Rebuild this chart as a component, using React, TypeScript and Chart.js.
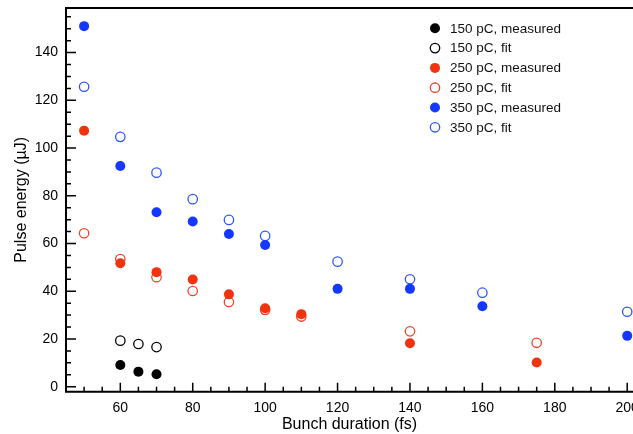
import React, { useEffect, useRef } from "react";
import { Chart, registerables } from "chart.js";

Chart.register(...registerables);

const xTicks = [60, 80, 100, 120, 140, 160, 180, 200];
const yTicks = [0, 20, 40, 60, 80, 100, 120, 140];

const x150 = [60, 65, 70];
const y150Measured = [9.1, 6.3, 5.2];
const y150Fit = [19.3, 17.9, 16.6];

const x250 = [50, 60, 70, 80, 90, 100, 110, 140, 175];
const y250Measured = [107.3, 51.7, 48.0, 44.9, 38.7, 32.9, 30.4, 18.2, 10.1];
const y250Fit = [64.3, 53.5, 45.9, 40.1, 35.5, 32.2, 29.4, 23.2, 18.4];

const x350 = [50, 60, 70, 80, 90, 100, 120, 140, 160, 200];
const y350Measured = [151.1, 92.5, 73.1, 69.2, 64.0, 59.4, 41.0, 41.0, 33.7, 21.3];
const y350Fit = [125.7, 104.7, 89.7, 78.6, 69.9, 63.2, 52.4, 45.0, 39.4, 31.4];

const labels = [
  "150 pC, measured",
  "150 pC, fit",
  "250 pC, measured",
  "250 pC, fit",
  "350 pC, measured",
  "350 pC, fit",
];

const BLACK = "#000000";
const RED = "#f2330f";
const RED_FIT = "#f0442a";
const BLUE = "#1438ff";
const BLUE_FIT = "#2f55ff";
const FONT = "'Liberation Sans', Arial, Helvetica, sans-serif";

function pts(xs: number[], ys: number[]) {
  return xs.map((x, i) => ({ x, y: ys[i] }));
}

function filled(label: string, data: any[], color: string) {
  return {
    label,
    data,
    pointRadius: 5,
    pointHoverRadius: 5,
    pointBackgroundColor: color,
    pointBorderColor: color,
    pointBorderWidth: 0,
    backgroundColor: color,
    borderColor: color,
  };
}
function open(label: string, data: any[], color: string) {
  return {
    label,
    data,
    pointRadius: 4.7,
    pointHoverRadius: 4.7,
    pointBackgroundColor: "#ffffff",
    pointBorderColor: color,
    pointBorderWidth: 1.3,
    backgroundColor: "#ffffff",
    borderColor: color,
  };
}

const framePlugin = {
  id: "frame",
  afterDraw(chart: any) {
    const ctx = chart.ctx;
    const { left, top, right, bottom } = chart.chartArea;
    const xs = chart.scales.x;
    const ys = chart.scales.y;
    ctx.save();
    ctx.strokeStyle = "#000";
    ctx.lineWidth = 2;
    ctx.beginPath();
    ctx.moveTo(right + 5, top);
    ctx.lineTo(left, top);
    ctx.lineTo(left, bottom);
    ctx.lineTo(right + 5, bottom);
    ctx.stroke();
    ctx.lineWidth = 1.5;
    ctx.beginPath();
    for (let v = 45; v <= 205; v += 5) {
      const px = xs.getPixelForValue(v);
      if (px < left + 1 || px > right + 5) continue;
      const len = v % 20 === 0 ? 9 : 5;
      ctx.moveTo(px, bottom);
      ctx.lineTo(px, bottom - len);
    }
    for (let v = 0; v <= 160; v += 5) {
      const py = ys.getPixelForValue(v);
      if (py < top + 1 || py > bottom) continue;
      const len = v % 20 === 0 ? 10 : 5;
      ctx.moveTo(left, py);
      ctx.lineTo(left + len, py);
    }
    ctx.stroke();

    // axis titles
    ctx.fillStyle = "#000";
    ctx.font = `16px ${FONT}`;
    ctx.textAlign = "center";
    ctx.textBaseline = "middle";
    ctx.fillText("Bunch duration (fs)", (left + right) / 2, 425);
    ctx.save();
    ctx.translate(22, (top + bottom) / 2);
    ctx.rotate(-Math.PI / 2);
    ctx.fillText("Pulse energy (\u00b5J)", 0, 0);
    ctx.restore();

    // legend
    ctx.font = `13.5px ${FONT}`;
    ctx.textAlign = "left";
    chart.data.datasets.forEach((ds: any, i: number) => {
      const cy = 28.3 + i * 19.8;
      const cx = 435;
      ctx.beginPath();
      ctx.arc(cx, cy, ds.pointRadius, 0, Math.PI * 2);
      ctx.fillStyle = ds.pointBackgroundColor;
      ctx.fill();
      if (ds.pointBorderWidth) {
        ctx.lineWidth = ds.pointBorderWidth;
        ctx.strokeStyle = ds.pointBorderColor;
        ctx.stroke();
      }
      ctx.fillStyle = "#111";
      ctx.fillText(ds.label, 450, cy + 0.5);
    });
    ctx.restore();
  },
};

export default function App() {
  const ref = useRef<HTMLCanvasElement | null>(null);
  useEffect(() => {
    document.body.style.margin = "0";
    const canvas = ref.current!;
    const chart = new Chart(canvas, {
      type: "scatter",
      data: {
        datasets: [
          filled(labels[0], pts(x150, y150Measured), BLACK),
          open(labels[1], pts(x150, y150Fit), BLACK),
          filled(labels[2], pts(x250, y250Measured), RED),
          open(labels[3], pts(x250, y250Fit), RED_FIT),
          filled(labels[4], pts(x350, y350Measured), BLUE),
          open(labels[5], pts(x350, y350Fit), BLUE_FIT),
        ] as any,
      },
      options: {
        animation: false,
        responsive: false,
        devicePixelRatio: 1,
        layout: { autoPadding: false, padding: { top: 8, right: 0, left: 0, bottom: 0 } },
        plugins: { legend: { display: false }, tooltip: { enabled: false } },
        scales: {
          x: {
            type: "linear",
            min: 45,
            max: 201.6,
            grid: { display: false, drawTicks: false },
            border: { display: false },
            ticks: { padding: 8, color: "#000", font: { size: 14, family: FONT }, maxRotation: 0, autoSkip: false },
            afterBuildTicks: (s: any) => {
              s.ticks = xTicks.map((v) => ({ value: v }));
            },
            afterFit: (s: any) => {
              s.height = 42.3;
              s.paddingLeft = 0;
              s.paddingRight = 0;
            },
          },
          y: {
            type: "linear",
            min: -2.1,
            max: 158.7,
            grid: { display: false, drawTicks: false },
            border: { display: false },
            ticks: { padding: 8, color: "#000", font: { size: 14, family: FONT }, autoSkip: false },
            afterBuildTicks: (s: any) => {
              s.ticks = yTicks.map((v) => ({ value: v }));
            },
            afterFit: (s: any) => {
              s.width = 66;
              s.paddingTop = 0;
              s.paddingBottom = 0;
            },
          },
        },
      },
      plugins: [framePlugin],
    });
    return () => chart.destroy();
  }, []);
  return (
    <div style={{ position: "absolute", left: 0, top: 0, width: 633, height: 434, background: "#fff" }}>
      <canvas ref={ref} width={633} height={434} style={{ width: 633, height: 434, display: "block" }} />
    </div>
  );
}
